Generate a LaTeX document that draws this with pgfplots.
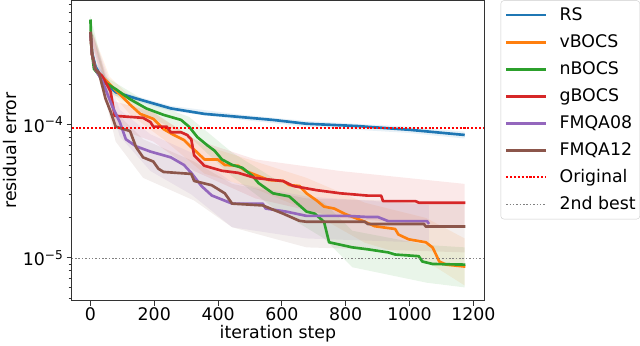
\documentclass[border=0pt]{standalone}
\usepackage{fontspec}
\setmainfont{DejaVu Sans}
\usepackage{pgfplots}
\pgfplotsset{compat=1.18}
\usepgfplotslibrary{fillbetween}

\definecolor{c0}{HTML}{1F77B4}
\definecolor{c1}{HTML}{FF7F0E}
\definecolor{c2}{HTML}{2CA02C}
\definecolor{c3}{HTML}{D62728}
\definecolor{c4}{HTML}{9467BD}
\definecolor{c5}{HTML}{8C564B}
\definecolor{origred}{HTML}{FF0000}
\definecolor{bestgray}{HTML}{808080}
\tikzset{mean/.style={line width=2.6pt,line join=round}}

\begin{document}
\begin{tikzpicture}
\begin{axis}[width=404pt,height=294pt,scale only axis,
 ymode=log,
 xmin=-58.75,xmax=1233.75,ymin=4.78e-6,ymax=8.63e-4,
 xtick={0,200,400,600,800,1000,1200},
 ytick={1e-5,1e-4},yticklabels={10\textsuperscript{−5},10\textsuperscript{−4}},
 minor ytick={5e-6,6e-6,7e-6,8e-6,9e-6,2e-5,3e-5,4e-5,5e-5,6e-5,7e-5,8e-5,9e-5,2e-4,3e-4,4e-4,5e-4,6e-4,7e-4,8e-4},
 tick pos=left,tick align=outside,
 major tick length=5pt,minor tick length=3pt,
 every tick/.style={black!80,line width=0.8pt},
 axis line style={black!80,line width=0.8pt},
 /pgf/number format/assume math mode=true,
 /pgf/number format/1000 sep={},
 tick label style={font=\fontsize{17}{20}\selectfont,inner sep=2pt},
 yticklabel style={inner sep=3pt},
 label style={font=\fontsize{17}{20}\selectfont},
 xlabel={iteration step},ylabel={residual error},
 xlabel style={inner sep=2.5pt},
 ylabel style={inner sep=3pt},
 legend cell align=left,
 legend style={at={(1.04,1)},anchor=north west,draw=black!20,rounded corners=3pt,
  font=\fontsize{17}{20}\selectfont,row sep=10pt,inner xsep=4pt,inner ysep=6pt,
  nodes={inner sep=0pt,text height=13pt,text depth=3.5pt},
  /tikz/every odd column/.append style={column sep=12pt}},
 legend image code/.code={\draw[#1] (0pt,0pt) -- (39pt,0pt);}]

% shaded bands
\addplot[draw=none,name path=aU,forget plot] coordinates {(0,5.5e-4)(16,2.95e-4)(79,1.82e-4)(252,1.39e-4)(463,1.2e-4)(677,1.07e-4)(997,9.7e-5)(1173,8.9e-5)};
\addplot[draw=none,name path=aL,forget plot] coordinates {(0,4.6e-4)(16,2.65e-4)(79,1.66e-4)(252,1.27e-4)(463,1.1e-4)(677,9.7e-5)(997,8.7e-5)(1173,7.9e-5)};
\addplot[fill=c0,fill opacity=0.1,draw=none,forget plot] fill between[of=aU and aL];

\addplot[draw=none,name path=bU,forget plot] coordinates {(0,5.5e-4)(60,2.3e-4)(124,1.65e-4)(229,1.1e-4)(357,7.0e-5)(517,5.3e-5)(677,4.0e-5)(860,2.6e-5)(1051,2.0e-5)(1173,1.4e-5)};
\addplot[draw=none,name path=bL,forget plot] coordinates {(0,4.5e-4)(60,1.8e-4)(124,1.2e-4)(229,7.8e-5)(357,4.3e-5)(517,3.3e-5)(677,2.3e-5)(860,1.3e-5)(1051,9.5e-6)(1173,6.2e-6)};
\addplot[fill=c1,fill opacity=0.1,draw=none,forget plot] fill between[of=bU and bL];

\addplot[draw=none,name path=cU,forget plot] coordinates {(0,6.6e-4)(47,2.3e-4)(175,1.5e-4)(309,1.15e-4)(444,6.2e-5)(572,4.0e-5)(732,2.6e-5)(821,1.6e-5)(1055,1.25e-5)(1173,1.2e-5)};
\addplot[draw=none,name path=cL,forget plot] coordinates {(0,5.8e-4)(47,1.85e-4)(175,1.18e-4)(309,8.2e-5)(444,4.1e-5)(572,2.4e-5)(732,1.4e-5)(821,8.5e-6)(1055,6.5e-6)(1173,6.0e-6)};
\addplot[fill=c2,fill opacity=0.1,draw=none,forget plot] fill between[of=cU and cL];

\addplot[draw=none,name path=dU,forget plot] coordinates {(0,5.5e-4)(76,1.5e-4)(197,1.25e-4)(325,7.8e-5)(517,5.5e-5)(783,4.5e-5)(1173,3.6e-5)};
\addplot[draw=none,name path=dL,forget plot] coordinates {(0,4.5e-4)(76,9.5e-5)(197,7.5e-5)(325,4.5e-5)(517,2.8e-5)(783,2.0e-5)(1173,1.7e-5)};
\addplot[fill=c3,fill opacity=0.1,draw=none,forget plot] fill between[of=dU and dL];

\addplot[draw=none,name path=eU,forget plot] coordinates {(0,5.5e-4)(92,1.3e-4)(188,8.5e-5)(316,6.2e-5)(444,3.7e-5)(677,2.9e-5)(1061,2.5e-5)};
\addplot[draw=none,name path=eL,forget plot] coordinates {(0,4.5e-4)(92,8.2e-5)(188,4.5e-5)(316,3.0e-5)(444,1.7e-5)(677,1.4e-5)(1061,1.3e-5)};
\addplot[fill=c4,fill opacity=0.1,draw=none,forget plot] fill between[of=eU and eL];

\addplot[draw=none,name path=fU,forget plot] coordinates {(0,5.5e-4)(79,1.25e-4)(165,7.8e-5)(325,5.3e-5)(444,3.6e-5)(677,2.8e-5)(1173,2.6e-5)};
\addplot[draw=none,name path=fL,forget plot] coordinates {(0,4.5e-4)(79,7.5e-5)(165,4.0e-5)(325,2.7e-5)(444,1.7e-5)(677,1.2e-5)(1173,1.1e-5)};
\addplot[fill=c5,fill opacity=0.1,draw=none,forget plot] fill between[of=fU and fL];

% mean curves
\addplot[c0,mean] coordinates {(0,5.0e-4)(5,3.5e-4)(16,2.75e-4)(37,2.21e-4)(79,1.76e-4)(143,1.58e-4)(252,1.33e-4)(357,1.21e-4)(463,1.15e-4)(572,1.09e-4)(677,1.02e-4)(837,9.8e-5)(997,9.2e-5)(1173,8.4e-5)};
\addplot[c1,mean] coordinates {(0,5.0e-4)(5,3.4e-4)(16,2.6e-4)(27,2.42e-4)(60,2.03e-4)(92,1.70e-4)(124,1.42e-4)(156,1.21e-4)(197,1.11e-4)(229,9.3e-5)(261,8.4e-5)(293,7.7e-5)(316,6.8e-5)(335,6.2e-5)(357,5.5e-5)(399,5.5e-5)(421,5.0e-5)(463,4.93e-5)(485,4.52e-5)(517,4.21e-5)(559,3.85e-5)(604,3.79e-5)(623,3.53e-5)(655,3.47e-5)(677,3.06e-5)(709,2.70e-5)(732,2.43e-5)(764,2.35e-5)(796,2.15e-5)(860,1.87e-5)(891,1.73e-5)(955,1.65e-5)(965,1.5e-5)(997,1.38e-5)(1051,1.31e-5)(1072,1.2e-5)(1083,1.06e-5)(1093,9.4e-6)(1115,8.9e-6)(1175,8.6e-6)};
\addplot[c2,mean] coordinates {(0,6.2e-4)(3,3.8e-4)(11,2.64e-4)(47,2.07e-4)(79,1.86e-4)(124,1.56e-4)(175,1.33e-4)(229,1.19e-4)(284,1.09e-4)(309,9.7e-5)(335,8.1e-5)(367,7.0e-5)(389,6.4e-5)(412,5.5e-5)(444,5.0e-5)(476,4.76e-5)(508,4.13e-5)(527,3.65e-5)(572,3.06e-5)(623,2.90e-5)(677,2.23e-5)(703,2.15e-5)(732,1.87e-5)(748,1.31e-5)(821,1.20e-5)(869,1.16e-5)(933,1.1e-5)(955,1.06e-5)(1029,1.03e-5)(1040,9.4e-6)(1072,9.0e-6)(1175,8.9e-6)};
\addplot[c3,mean] coordinates {(0,5.0e-4)(5,3.4e-4)(16,2.6e-4)(37,2.33e-4)(63,1.79e-4)(76,1.17e-4)(165,1.13e-4)(188,1.05e-4)(197,9.7e-5)(239,9.7e-5)(252,8.8e-5)(284,8.8e-5)(303,8.4e-5)(316,7.8e-5)(325,5.9e-5)(357,4.93e-5)(412,4.52e-5)(463,4.36e-5)(517,3.99e-5)(604,3.78e-5)(636,3.47e-5)(709,3.23e-5)(783,3.06e-5)(869,2.94e-5)(911,2.94e-5)(917,2.67e-5)(1019,2.67e-5)(1029,2.6e-5)(1175,2.6e-5)};
\addplot[c4,mean] coordinates {(0,5.0e-4)(5,3.4e-4)(16,2.6e-4)(37,2.14e-4)(69,1.37e-4)(92,1.05e-4)(111,7.8e-5)(143,6.9e-5)(188,6.3e-5)(252,5.7e-5)(293,5.0e-5)(316,4.36e-5)(348,3.47e-5)(380,2.95e-5)(444,2.56e-5)(540,2.56e-5)(549,2.35e-5)(613,2.23e-5)(677,2.07e-5)(805,2.07e-5)(869,2.03e-5)(901,2.03e-5)(933,1.89e-5)(1055,1.89e-5)(1061,1.80e-5)};
\addplot[c5,mean] coordinates {(0,5.0e-4)(5,3.4e-4)(16,2.6e-4)(28,2.4e-4)(47,1.58e-4)(63,1.26e-4)(79,9.7e-5)(124,9.0e-5)(143,6.8e-5)(165,5.7e-5)(197,5.3e-5)(213,4.68e-5)(229,4.43e-5)(316,4.28e-5)(325,3.79e-5)(380,3.52e-5)(421,3.06e-5)(444,2.56e-5)(540,2.48e-5)(604,2.15e-5)(655,1.90e-5)(677,1.87e-5)(860,1.87e-5)(869,1.80e-5)(1045,1.80e-5)(1051,1.72e-5)(1175,1.72e-5)};

% reference levels
\addplot[origred,line width=2pt,dash pattern=on 2pt off 1.8pt] coordinates {(-58.75,9.5e-5)(1233.75,9.5e-5)};
\addplot[bestgray,line width=1.5pt,dash pattern=on 1.5pt off 1.8pt] coordinates {(-58.75,9.9e-6)(1233.75,9.9e-6)};

\legend{RS,vBOCS,nBOCS,gBOCS,FMQA08,FMQA12,Original,2nd best}
\end{axis}
\end{tikzpicture}
\end{document}
